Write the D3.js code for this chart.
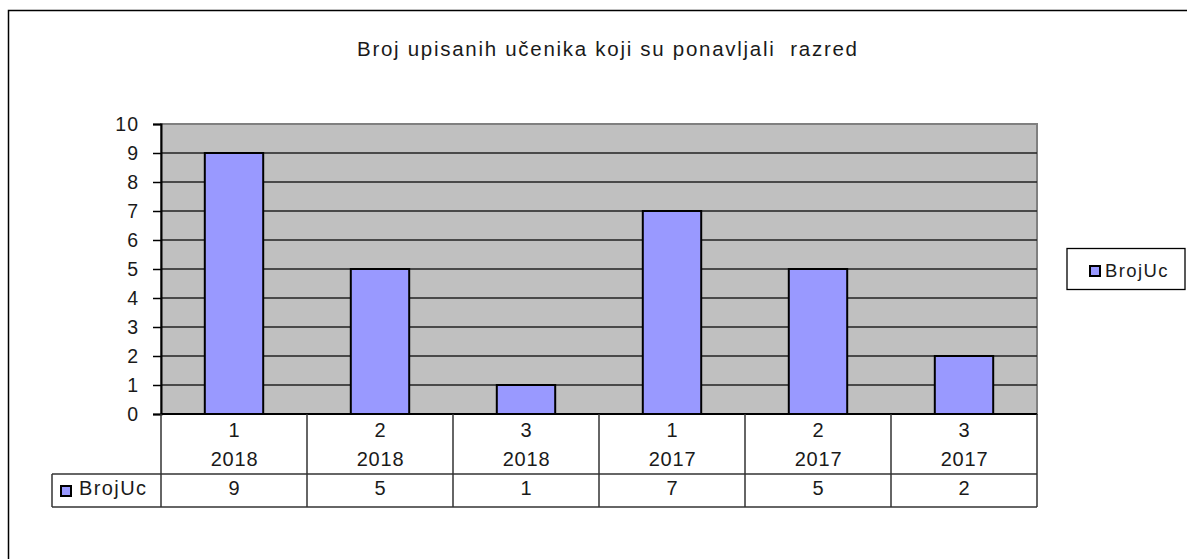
<!DOCTYPE html>
<html><head><meta charset="utf-8">
<script src="https://cdn.jsdelivr.net/npm/d3@7"></script>
<style>body{margin:0;background:#fff}svg{display:block;font-family:"Liberation Sans",Arial,sans-serif}</style>
</head><body><svg id="c" width="1187" height="559"></svg>
<script>
const title = "Broj upisanih učenika koji su ponavljali  razred";
const seriesName = "BrojUc";
const razred = ["1","2","3","1","2","3"];
const godina = ["2018","2018","2018","2017","2017","2017"];
const values = [9,5,1,7,5,2];
const yTicks = [0,1,2,3,4,5,6,7,8,9,10];

const svg = d3.select("#c");
const L=161, R=1037, T=124, B=414;
const idx = d3.range(values.length);
const x = d3.scaleBand().domain(idx).range([L,R]).paddingInner(0).paddingOuter(0);
const y = d3.scaleLinear().domain([0,10]).range([B,T]);

// outer border
svg.append("rect").attr("x",8.5).attr("y",10.5).attr("width",1300).attr("height",700)
  .attr("fill","none").attr("stroke","#000").attr("stroke-width",1.5);

svg.append("text").attr("x",357).attr("y",56)
  .attr("font-size",20.5).attr("fill","#1a1a1a").attr("xml:space","preserve")
  .attr("textLength",500).attr("lengthAdjust","spacing").text(title);

// plot area
svg.append("rect").attr("x",L).attr("y",T).attr("width",R-L).attr("height",B-T)
  .attr("fill","#c0c0c0").attr("stroke","#808080").attr("stroke-width",2);

// gridlines
svg.append("g").selectAll("line").data(yTicks.filter(d=>d>0&&d<10)).join("line")
  .attr("x1",L).attr("x2",R).attr("y1",d=>y(d)).attr("y2",d=>y(d))
  .attr("stroke","#222").attr("stroke-width",1.3);

// bars
svg.append("g").selectAll("rect").data(idx).join("rect")
  .attr("x",i=>x(i)+x.bandwidth()*0.3).attr("width",x.bandwidth()*0.4)
  .attr("y",i=>y(values[i])).attr("height",i=>B-y(values[i]))
  .attr("fill","#9999ff").attr("stroke","#000").attr("stroke-width",2);

// y axis
const ya = svg.append("g").attr("transform",`translate(${L},0)`)
  .call(d3.axisLeft(y).tickValues(yTicks).tickSize(8).tickPadding(14).tickFormat(d3.format("d")));
ya.select(".domain").attr("stroke","#000").attr("stroke-width",2);
ya.selectAll(".tick line").attr("stroke","#000").attr("stroke-width",1.5);
ya.selectAll(".tick text").attr("font-size",19.5).attr("letter-spacing",1).attr("fill","#1a1a1a")
  .attr("font-family","Liberation Sans, Arial, sans-serif");

// data table
const tb = svg.append("g").attr("stroke","#333").attr("stroke-width",1.5);
const rowTop=414, rowMid=474, rowBot=507, legL=52;
tb.append("line").attr("x1",L).attr("x2",R).attr("y1",rowTop).attr("y2",rowTop).attr("stroke","#000").attr("stroke-width",2);
tb.append("line").attr("x1",legL).attr("x2",R).attr("y1",rowMid).attr("y2",rowMid);
tb.append("line").attr("x1",legL).attr("x2",R).attr("y1",rowBot).attr("y2",rowBot);
tb.append("line").attr("x1",legL).attr("x2",legL).attr("y1",rowMid).attr("y2",rowBot);
tb.append("line").attr("x1",L).attr("x2",L).attr("y1",rowTop).attr("y2",rowBot);
tb.selectAll(".v").data(idx).join("line").attr("class","v")
  .attr("x1",i=>x(i)+x.bandwidth()).attr("x2",i=>x(i)+x.bandwidth()).attr("y1",rowTop).attr("y2",rowBot);

const tt = svg.append("g").attr("font-size",20).attr("letter-spacing",0.8).attr("fill","#1a1a1a").attr("text-anchor","middle");
tt.selectAll(".r").data(idx).join("text").attr("class","r")
  .attr("x",i=>x(i)+x.bandwidth()/2+0.5).attr("y",437).text(i=>razred[i]);
tt.selectAll(".g").data(idx).join("text").attr("class","g")
  .attr("x",i=>x(i)+x.bandwidth()/2+0.5).attr("y",466).text(i=>godina[i]);
tt.selectAll(".val").data(idx).join("text").attr("class","val")
  .attr("x",i=>x(i)+x.bandwidth()/2+0.5).attr("y",495).text(i=>values[i]);

// table legend key
svg.append("rect").attr("x",61).attr("y",486).attr("width",10).attr("height",10)
  .attr("fill","#9999ff").attr("stroke","#000").attr("stroke-width",2);
svg.append("text").attr("x",79).attr("y",495).attr("font-size",20).attr("letter-spacing",1.4)
  .attr("fill","#1a1a1a").text(seriesName);

// legend
svg.append("rect").attr("x",1067).attr("y",248.5).attr("width",118).attr("height",41)
  .attr("fill","#fff").attr("stroke","#000").attr("stroke-width",1.3);
svg.append("rect").attr("x",1090).attr("y",266).attr("width",10).attr("height",10)
  .attr("fill","#9999ff").attr("stroke","#000").attr("stroke-width",2);
svg.append("text").attr("x",1105).attr("y",277).attr("font-size",18.5).attr("letter-spacing",1.4)
  .attr("fill","#1a1a1a").text(seriesName);
</script></body></html>
